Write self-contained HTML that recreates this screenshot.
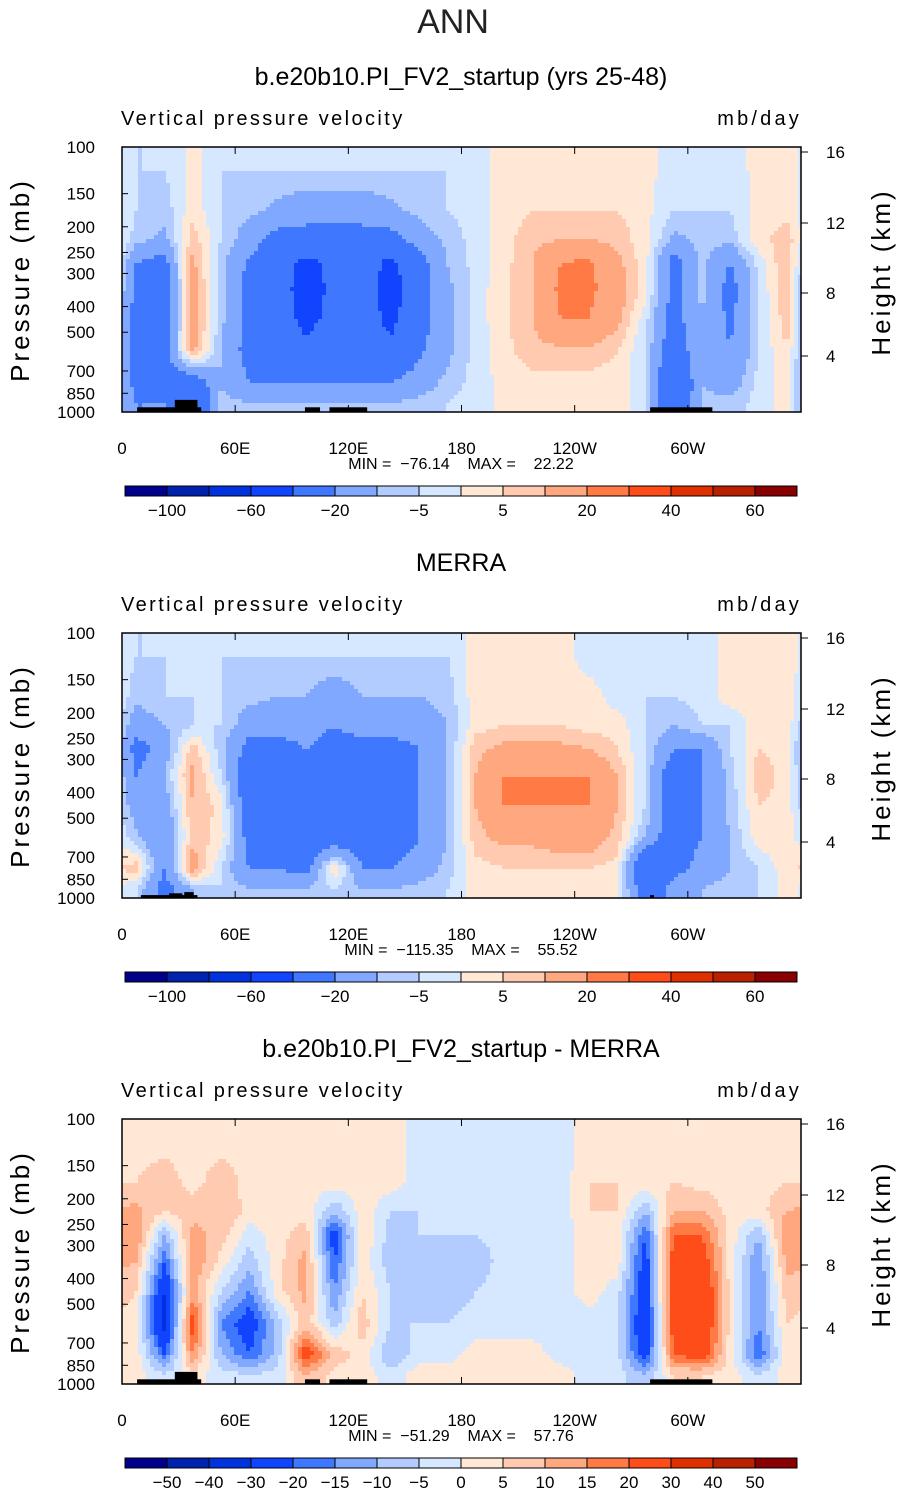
<!DOCTYPE html>
<html><head><meta charset="utf-8">
<style>
html,body{margin:0;padding:0;background:#fff;}
svg{display:block;font-family:"Liberation Sans",sans-serif;}
</style></head>
<body>
<svg id="chart" width="905" height="1493" viewBox="0 0 905 1493"></svg>
<script>
// ---- data ----
const pressureLevels = [100,150,200,250,300,400,500,700,850,1000];
const lonTicks = [0,60,120,180,240,300];
const lonTickLabels = ["0","60E","120E","180","120W","60W"];
const heightTicks = [16,12,8,4];
const levels1 = [-100,-80,-60,-40,-20,-10,-5,0,5,10,20,30,40,50,60];
const levels1Labels = ["-100","","-60","","-20","","-5","","5","","20","","40","","60"];
const levels3 = [-50,-40,-30,-20,-15,-10,-5,0,5,10,15,20,30,40,50];
const levels3Labels = ["-50","-40","-30","-20","-15","-10","-5","0","5","10","15","20","30","40","50"];
const palette = ["#00008b","#0022b0","#0033dd","#1144ff","#3f77ff","#80a8ff","#b3ccff","#d6e8ff","#ffe8d6","#ffcab0","#ffa880","#ff7a45","#ff4d1a","#e03000","#b82000","#880000"];

const model = [
[-5,-5,2,-5,-5,-5,-5,-5,-5,-5,-5,-5,-3,3,3,3,3,3,2,-3,-5,-5,3,3],
[-5,-8,3,-5,-8,-12,-15,-15,-15,-12,-8,-5,-3,3,5,5,5,5,2,-5,-5,-5,2,3],
[-8,-12,8,-5,-15,-25,-25,-25,-25,-25,-15,-8,-3,3,8,10,10,8,2,-12,-8,-8,3,8],
[-20,-25,12,-8,-22,-30,-45,-35,-30,-45,-25,-10,-3,3,10,20,22,12,2,-25,-8,-20,-3,10],
[-25,-30,15,-8,-25,-30,-50,-35,-30,-50,-25,-12,-3,4,10,22,22,15,2,-25,-8,-25,-5,10],
[-25,-30,15,-8,-25,-30,-45,-35,-30,-45,-25,-12,-3,4,10,20,20,12,-3,-25,-10,-22,-5,8],
[-25,-25,12,-10,-25,-30,-35,-30,-30,-35,-22,-12,-3,3,8,8,8,5,-5,-30,-10,-20,-5,5],
[-25,-30,-30,-10,-20,-20,-20,-20,-20,-20,-15,-8,-3,2,3,3,3,3,-3,-40,-10,-15,-3,3],
[-20,-20,-40,-8,-10,-10,-10,-10,-10,-10,-8,-5,-3,2,2,2,2,2,-3,-40,-8,-8,-3,2]];
const merra = [
[-5,-5,-5,-5,-5,-5,-5,-5,-5,-5,-5,-5,3,3,3,3,-3,-3,-5,-5,-3,3,3,3],
[-8,-5,-5,-5,-8,-10,-10,-15,-10,-10,-10,-8,3,3,3,3,3,-3,-5,-5,-3,3,3,3],
[-15,-10,-5,-5,-15,-15,-15,-20,-15,-15,-15,-10,3,5,5,5,3,3,-5,-10,-5,-5,3,3],
[-25,-15,8,-8,-25,-25,-20,-25,-25,-25,-20,-10,8,12,12,12,10,5,-5,-20,-20,-5,5,3],
[-20,-10,12,-5,-30,-25,-25,-30,-25,-25,-20,-10,10,20,20,20,20,10,-5,-30,-20,-8,8,3],
[-15,-15,10,3,-30,-25,-30,-30,-30,-30,-20,-10,10,20,20,20,20,10,-5,-30,-20,-8,5,3],
[-8,-20,8,3,-25,-25,-30,-30,-30,-30,-20,-10,8,12,12,15,15,8,-10,-30,-20,-10,3,3],
[8,-20,15,-5,-20,-20,-25,5,-20,-20,-15,-8,3,5,5,5,5,3,-40,-25,-15,-10,-5,3],
[-5,-25,-10,-5,-10,-10,-10,-5,-10,-10,-8,-5,3,3,3,3,3,3,-30,-15,-10,-8,-5,3]];
const diff = [
[3,3,3,3,3,3,3,3,3,3,-3,-3,-3,-3,-3,-3,3,3,3,3,3,3,3,3],
[5,8,3,8,3,3,3,3,3,3,-3,-3,-3,-3,-3,-3,5,5,3,5,3,3,3,5],
[12,5,8,10,3,3,3,-10,3,-5,-5,-3,-3,-3,-3,-3,5,5,-10,10,10,3,3,10],
[15,-10,12,8,-3,3,8,-25,5,-8,-5,-5,-5,-3,-3,-3,3,3,-20,20,20,3,-10,15],
[10,-20,15,3,-8,3,12,-20,3,-8,-8,-8,-8,-3,-3,-3,3,3,-25,25,25,3,-15,12],
[5,-30,12,-5,-15,3,12,-15,5,-5,-8,-8,-5,-3,-3,-3,3,-3,-25,25,30,3,-15,8],
[3,-35,25,-15,-25,-8,8,-8,8,-5,-5,-5,-3,-3,-3,-3,-3,-3,-30,25,30,3,-15,5],
[3,-20,15,-10,-20,-8,25,8,3,-10,-3,-3,3,3,3,-3,-3,-3,-25,20,25,3,-20,3],
[3,-5,3,-3,-5,-3,10,3,3,-3,3,3,3,3,3,3,-3,-3,-10,5,5,3,-5,3]];
const statsText = ["MIN =  \u221276.14    MAX =    22.22","MIN =  \u2212115.35    MAX =    55.52","MIN =  \u221251.29    MAX =    57.76"];
const titles = ["b.e20b10.PI_FV2_startup (yrs 25-48)","MERRA","b.e20b10.PI_FV2_startup - MERRA"];
// terrain blocks [lon0, lon1, topPressure]
const terrain1 = [[8,42,960],[28,40,900],[97,105,960],[110,130,960],[280,313,960]];
const terrain2 = [[10,40,975],[25,32,960],[33,38,950],[280,282,975]];

const NS="http://www.w3.org/2000/svg";
const svg=document.getElementById('chart');
function mk(tag,attrs,parent,text){const e=document.createElementNS(NS,tag);for(const k in attrs)e.setAttribute(k,attrs[k]);if(text!==undefined)e.textContent=text;(parent||svg).appendChild(e);return e;}

const X0=122,X1=801,PH=265;
function xOf(lon){return X0+lon/360*(X1-X0);}
function levelIndex(v,levs){let i=0;while(i<levs.length&&v>=levs[i])i++;return i;}

function panel(idx,top,grid,levs,levLabels,terrain){
  const g=mk('g',{});
  
  
  const yOf=p=>top+Math.log10(p/100)*PH;
  const t=mk('text',{x:461,y:top-62,'text-anchor':'middle','font-size':25},g,titles[idx]);
  
  const s1=mk('text',{x:121,y:top-22,'font-size':20,'letter-spacing':'2.4'},g,'Vertical pressure velocity');
  
  const s2=mk('text',{x:802,y:top-22,'font-size':20,'text-anchor':'end','letter-spacing':'3.2'},g,'mb/day');
  
  const rowsC=[];for(let r=0;r<9;r++)rowsC.push((Math.log10(pressureLevels[r])+Math.log10(pressureLevels[r+1]))/2);
  const field=mk('g',{},g);
  
  const step=4;
  for(let py=top;py<top+PH;py+=step){
    const lp=2+(py+step/2-top)/PH;
    let r=0;while(r<7&&lp>rowsC[r+1])r++;
    let fr=(lp-rowsC[r])/(rowsC[r+1]-rowsC[r]);fr=Math.max(0,Math.min(1,fr));
    let runStart=X0,runIdx=-1;
    const h=Math.min(step,top+PH-py)+0.6;
    for(let px=X0;;px+=step){
      const done=px>=X1;
      let idxv=-1;
      if(!done){
        const lon=(px+step/2-X0)/(X1-X0)*360;
        let c=Math.floor((lon-7.5)/15);let c0=((c%24)+24)%24,c1=(c0+1)%24;
        let fc=(lon-7.5-15*c)/15;
        const v=(1-fr)*((1-fc)*grid[r][c0]+fc*grid[r][c1])+fr*((1-fc)*grid[r+1][c0]+fc*grid[r+1][c1]);
        idxv=levelIndex(v,levs);
      }
      if(idxv!==runIdx||done){
        if(runIdx>=0){mk('rect',{x:runStart,y:py,width:Math.min(px,X1)-runStart+0.6,height:h,fill:palette[runIdx]},field);}
        runStart=px;runIdx=idxv;
      }
      if(done)break;
    }
  }
  terrain.forEach(b=>{const e=mk('rect',{x:xOf(b[0]),y:yOf(b[2]),width:xOf(b[1])-xOf(b[0]),height:top+PH-yOf(b[2]),fill:'#000'},g);
    });
  const fr=mk('rect',{x:X0,y:top,width:X1-X0,height:PH,fill:'none',stroke:'#000','stroke-width':1.5},g);
  
  pressureLevels.forEach(p=>{const y=yOf(p);
    mk('line',{x1:X0,x2:X0+6,y1:y,y2:y,stroke:'#000'},g);
    const l=mk('text',{x:95,y:y+6,'font-size':17,'text-anchor':'end'},g,String(p));
    });
  const yl=mk('text',{x:0,y:0,'font-size':26,'text-anchor':'middle','letter-spacing':'3',transform:`translate(29,${top+133}) rotate(-90)`},g,'Pressure (mb)');
  
  const hOff={16:5,12:76,8:146,4:209};
  heightTicks.forEach(h=>{const y=top+hOff[h];
    mk('line',{x1:X1,x2:X1+7,y1:y,y2:y,stroke:'#000'},g);
    const l=mk('text',{x:826,y:y+6,'font-size':17},g,String(h));
    });
  const yr=mk('text',{x:0,y:0,'font-size':26,'text-anchor':'middle','letter-spacing':'3',transform:`translate(890,${top+125}) rotate(-90)`},g,'Height (km)');
  
  lonTicks.forEach((lon,i)=>{const x=xOf(lon);
    mk('line',{x1:x,x2:x,y1:top+PH,y2:top+PH-7,stroke:'#000'},g);
    mk('line',{x1:x,x2:x,y1:top,y2:top+7,stroke:'#000'},g);
    const l=mk('text',{x:x,y:top+PH+42,'font-size':17,'text-anchor':'middle'},g,lonTickLabels[i]);
    });
  const st=mk('text',{x:461,y:top+PH+57,'font-size':16,'text-anchor':'middle',style:'white-space:pre'},g,statsText[idx]);
  
  const cb=mk('g',{},g);
  const cy=top+339,bw=42;
  palette.forEach((col,i)=>{mk('rect',{x:125+i*bw,y:cy,width:bw,height:10,fill:col,stroke:'#000','stroke-width':1},cb);});
  levLabels.forEach((lab,i)=>{if(!lab)return;const l=mk('text',{x:125+(i+1)*bw,y:cy+30,'font-size':17,'text-anchor':'middle'},cb,lab.replace('-','\u2212'));
    });
}
const ann=mk('text',{x:453,y:33,'font-size':34,'text-anchor':'middle',fill:'#222'},svg,'ANN');

panel(0,147,model,levels1,levels1Labels,terrain1);
panel(1,633,merra,levels1,levels1Labels,terrain2);
panel(2,1119,diff,levels3,levels3Labels,terrain1);
</script>
</body></html>
